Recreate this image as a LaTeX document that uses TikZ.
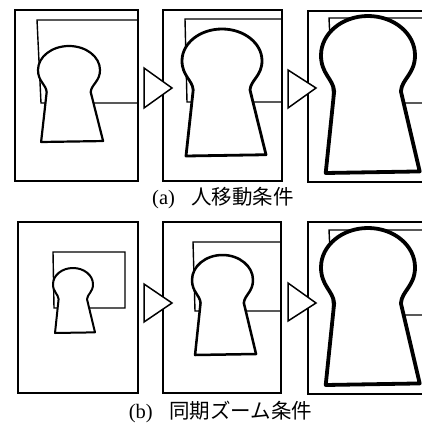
\documentclass[tikz,border=0pt]{standalone}
\usepackage{fontspec}
\setmainfont{Liberation Serif}
\newfontfamily\jpfont{Noto Sans CJK JP}
\tikzset{
  framebox/.style={draw=black, line width=1.3pt},
  monitor/.style={draw=black, line width=1.4pt},
  arrowtri/.style={draw=black, fill=white, line width=1.5pt, line join=miter},
  caption/.style={font=\fontsize{20.5}{24}\selectfont, inner sep=0pt}
}
% \keyhole{cx}{top}{halfwidth}{height}{linewidth}
\newcommand\keyhole[5]{%
  \draw[line width=#5, fill=white, line join=round, shift={(#1,#2)}, xscale=#3, yscale=#4]
    (-0.72,0.48) .. controls (-0.74,0.40) and (-1,0.37) .. (-1,0.25)
    .. controls (-1,0.112) and (-0.552,0) .. (0,0)
    .. controls (0.552,0) and (1,0.112) .. (1,0.25)
    .. controls (1,0.37) and (0.72,0.40) .. (0.70,0.48)
    -- (1.10,0.99) -- (-0.90,1.0) -- cycle;}
\begin{document}
\begin{tikzpicture}[x=1pt, y=-1pt]
\useasboundingbox (0,0) rectangle (422,425);
\clip (0,0) rectangle (422,425);
% ---------- row (a) ----------
\draw[framebox] (15,10) rectangle (138,181);
\draw[monitor] (138,20) -- (37,20) -- (41,103) -- (138,103);
\keyhole{69}{46}{31}{96}{2.2pt}
\draw[framebox] (163,10) rectangle (282,181);
\draw[monitor] (282,19) -- (185,19) -- (187,102) -- (282,102);
\keyhole{222}{29}{40}{127}{2.8pt}
\draw[framebox] (308,11) rectangle (440,182);
\draw[monitor] (430,18) -- (329,18) -- (333,103) -- (430,103);
\keyhole{368}{16}{47}{157}{3.8pt}
\draw[arrowtri] (144,68) -- (144,108) -- (172,88) -- cycle;
\draw[arrowtri] (288,70) -- (288,108) -- (316,88) -- cycle;
\node[caption] (capa) at (223,198) {(a)\hspace{0.8em}{\jpfont 人移動条件}};
% ---------- row (b) ----------
\draw[framebox] (18,222) rectangle (138,393);
\draw[monitor] (53,252) -- (125,252) -- (125,308) -- (54,308) -- cycle;
\keyhole{73}{268}{20}{65}{2.0pt}
\draw[framebox] (163,222) rectangle (281,393);
\draw[monitor] (281,242) -- (193,242) -- (195,311) -- (281,311);
\keyhole{222.5}{255}{30.5}{100}{2.5pt}
\draw[framebox] (308,222) rectangle (440,394);
\draw[monitor] (430,230) -- (329,230) -- (333,315) -- (430,315);
\keyhole{368}{228}{47}{157}{3.8pt}
\draw[arrowtri] (144,284) -- (144,322) -- (172,303) -- cycle;
\draw[arrowtri] (288,283) -- (288,321) -- (316,303) -- cycle;
\node[caption] (capb) at (220.5,412) {(b)\hspace{0.8em}{\jpfont 同期ズーム条件}};
\end{tikzpicture}
\end{document}
